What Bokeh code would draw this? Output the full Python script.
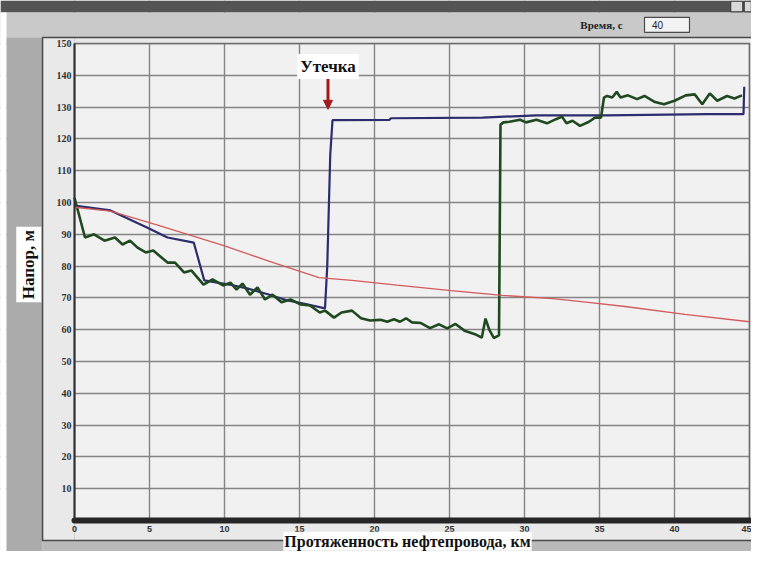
from bokeh.plotting import figure
from bokeh.models import Range1d, FixedTicker, Label, Arrow, NormalHead
from bokeh.embed import file_html
from bokeh.resources import INLINE

# ---- data ----
x_ticks = [0, 5, 10, 15, 20, 25, 30, 35, 40, 45]
y_ticks = [10, 20, 30, 40, 50, 60, 70, 80, 90, 100, 110, 120, 130, 140, 150]

green_x = [0.0, 0.7, 1.3, 2.0, 2.7, 3.2, 3.7, 4.2, 4.75, 5.25, 5.8, 6.2, 6.7, 7.3, 7.8,
           8.6, 9.2, 9.9, 10.4, 10.8, 11.2, 11.7, 12.2, 12.7, 13.2, 13.8, 14.4, 15.1,
           15.7, 16.35, 16.7, 17.3, 17.8, 18.5, 19.1, 19.7, 20.4, 20.85, 21.3, 21.7,
           22.1, 22.5, 23.1, 23.7, 24.3, 24.85, 25.4, 26.0, 26.7, 27.15, 27.4, 27.65,
           27.95, 28.3, 28.4, 28.6, 29.0, 29.7, 30.1, 30.8, 31.5, 32.1, 32.5, 32.8,
           33.2, 33.7, 34.3, 34.7, 35.1, 35.3, 35.5, 35.85, 36.15, 36.4, 36.9, 37.5,
           38.0, 38.7, 39.3, 40.0, 40.75, 41.35, 41.85, 42.35, 42.85, 43.5, 44.0, 44.5]
green_y = [101.5, 89.0, 90.0, 88.0, 89.0, 86.8, 88.0, 85.8, 84.3, 84.9, 82.7, 81.1, 81.1,
           78.0, 78.6, 74.2, 75.8, 73.9, 74.8, 72.6, 74.5, 71.0, 73.3, 69.5, 71.0, 68.6,
           69.5, 67.9, 67.6, 65.4, 66.0, 63.8, 65.4, 66.0, 63.6, 62.9, 63.1, 62.5, 63.3,
           62.5, 63.6, 62.3, 62.1, 60.5, 61.7, 60.4, 61.8, 59.7, 58.6, 57.5, 63.5, 60.0,
           57.4, 58.2, 124.5, 125.2, 125.4, 126.0, 125.2, 126.0, 124.9, 126.2, 127.0,
           124.9, 125.7, 124.1, 125.4, 126.7, 126.7, 133.0, 133.5, 133.0, 134.8, 133.0,
           133.7, 132.5, 133.5, 131.6, 130.9, 132.0, 133.7, 134.0, 130.9, 134.3, 132.0,
           133.5, 132.7, 133.7]

blue_x = [0.0, 2.4, 4.9, 6.2, 7.95, 8.65, 10.3, 11.5, 13.0, 14.2, 15.5, 16.7, 16.85,
          17.05, 17.2, 21.0, 21.1, 27.2, 30.8, 35.4, 42.2, 44.6, 44.65]
blue_y = [99.0, 97.5, 92.0, 89.0, 87.4, 75.5, 74.2, 73.0, 71.0, 69.2, 68.0, 66.7, 80.0,
          115.0, 125.9, 126.0, 126.5, 126.7, 127.4, 127.4, 127.8, 127.8, 136.4]

red_x = [0.0, 2.4, 5.6, 9.9, 13.0, 16.3, 18.5, 21.5, 25.1, 28.5, 31.9, 34.4, 36.7, 40.7, 45.0]
red_y = [98.5, 97.3, 92.8, 86.5, 81.5, 76.4, 75.5, 74.0, 72.3, 70.8, 69.8, 68.5, 67.3, 64.8, 62.5]

x_title = "Протяженность нефтепровода, км"
y_title = "Напор, м"
leak_text = "Утечка"
time_text = "Время, с"
time_value = "40"

SERIF = "Liberation Serif"
SANS = "Liberation Sans"

# The frame spans the whole figure (15 px per km, 3.18 px per metre of head);
# the data area 0..45 km x 0..150 m sits inside it like in the screenshot.
XL, XR = -74 / 15, 45 + 2 / 15
YB, YT = -31 / 3.18, 150 + 43 / 3.18

p = figure(width=751, height=551, output_backend="svg", toolbar_location=None,
           x_range=Range1d(XL, XR), y_range=Range1d(YB, YT),
           min_border=0, min_border_left=0, min_border_right=0,
           min_border_top=0, min_border_bottom=0)
p.outline_line_color = None
p.border_fill_color = "#b8b8b8"
p.background_fill_color = "#f1f1f1"

# grid (underlay), later covered outside the data area by the window panels
p.xgrid.ticker = FixedTicker(ticks=x_ticks)
p.ygrid.ticker = FixedTicker(ticks=y_ticks)
p.grid.grid_line_color = "#858585"
p.grid.grid_line_width = 1.4

# window chrome around the chart
PL, PT, PB = -2.13, 151.9, -6.29
p.quad(left=[XL], right=[XR], top=[YT], bottom=[159.75], fill_color="#545454", line_color=None)
p.quad(left=[XL], right=[XR], top=[159.75], bottom=[PT], fill_color="#c9c9c9", line_color=None)
p.quad(left=[XL], right=[-4.53], top=[159.75], bottom=[YB], fill_color="#ffffff", line_color=None)
p.quad(left=[-4.53], right=[PL], top=[PT], bottom=[YB], fill_color="#ababab", line_color=None)
p.quad(left=[PL], right=[XR], top=[PB], bottom=[YB], fill_color="#b9b9b9", line_color=None)
p.quad(left=[PL, 0, 0, 45], right=[0, XR, XR, XR], top=[PT, PT, 0, 150],
       bottom=[PB, 150, PB, 0], fill_color="#e9e9e9", line_color=None)
p.quad(left=[PL], right=[XR + 1], top=[PT], bottom=[PB], fill_color=None,
       line_color="#4a4a4a", line_width=1.5)
p.quad(left=[0], right=[45], top=[150], bottom=[0], fill_color=None,
       line_color="#6e6e6e", line_width=1.5)
# time field and window buttons
p.quad(left=[38.0], right=[41.0], top=[158.2], bottom=[153.5], fill_color="#f3f3f3",
       line_color="#4a4a4a", line_width=1.2)
p.quad(left=[43.75, 44.65], right=[44.55, 45.12], top=[163.3, 163.3], bottom=[159.95, 159.95],
       fill_color="#d8d8d8", line_color="#333333", line_width=1)

# axes placed at the data origin
p.xaxis.fixed_location = 0
p.yaxis.fixed_location = 0
p.xaxis.bounds = (0, 45)
p.yaxis.bounds = (0, 150)
p.xaxis.ticker = FixedTicker(ticks=x_ticks)
p.yaxis.ticker = FixedTicker(ticks=y_ticks)

p.xaxis.axis_line_width = 6
p.xaxis.axis_line_color = "#262626"
p.xaxis.axis_line_cap = "round"
p.xaxis.major_tick_line_color = None
p.xaxis.minor_tick_line_color = None
p.xaxis.major_tick_out = 0
p.xaxis.major_tick_in = 0
p.xaxis.major_label_standoff = 5
p.xaxis.major_label_text_font = SANS
p.xaxis.major_label_text_font_style = "bold"
p.xaxis.major_label_text_font_size = "9px"
p.xaxis.major_label_text_color = "#333333"

p.yaxis.axis_line_width = 2
p.yaxis.axis_line_color = "#303030"
p.yaxis.major_tick_line_color = None
p.yaxis.minor_tick_line_color = None
p.yaxis.major_tick_out = 0
p.yaxis.major_tick_in = 0
p.yaxis.major_label_standoff = 3
p.yaxis.major_label_text_font = SERIF
p.yaxis.major_label_text_font_style = "bold"
p.yaxis.major_label_text_font_size = "10px"
p.yaxis.major_label_text_color = "#333333"

# series
p.line(blue_x, blue_y, line_color="#2c2c6e", line_width=2.2)
p.line(green_x, green_y, line_color="#1f4a1f", line_width=2.6)
p.line(red_x, red_y, line_color="#d55a5a", line_width=1.3)

# leak annotation
p.add_layout(Arrow(x_start=16.9, y_start=139.0, x_end=16.9, y_end=129.3,
                   line_color="#a01c1c", line_width=3,
                   end=NormalHead(size=9, fill_color="#a01c1c", line_color="#a01c1c")))
p.add_layout(Label(x=16.9, y=142.8, text=leak_text, text_align="center", text_baseline="middle",
                   text_font=SERIF, text_font_style="bold", text_font_size="17px",
                   text_color="#111111", background_fill_color="#ffffff",
                   background_fill_alpha=1, padding=3))

# axis titles
p.add_layout(Label(x=-3.05, y=80.5, text=y_title, angle=1.5708, text_align="center",
                   text_baseline="middle", text_font=SERIF, text_font_style="bold",
                   text_font_size="17px", text_color="#111111",
                   background_fill_color="#ffffff", background_fill_alpha=1, padding=3))
p.add_layout(Label(x=22.2, y=-9.5, text=x_title, text_align="center", text_baseline="bottom",
                   text_font=SERIF, text_font_style="bold", text_font_size="16px",
                   text_color="#111111", background_fill_color="#ffffff",
                   background_fill_alpha=1, padding=1))

# top bar texts
p.add_layout(Label(x=35.13, y=155.7, text=time_text, text_align="center", text_baseline="middle",
                   text_font=SERIF, text_font_style="bold", text_font_size="11px",
                   text_color="#222222"))
p.add_layout(Label(x=38.5, y=155.8, text=time_value, text_align="left", text_baseline="middle",
                   text_font=SANS, text_font_size="10px", text_color="#222222"))

open("out.html", "w").write(file_html(p, INLINE))
